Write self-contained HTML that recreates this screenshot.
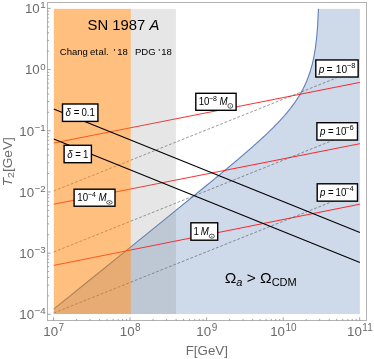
<!DOCTYPE html>
<html><head><meta charset="utf-8"><title>plot</title>
<style>html,body{margin:0;padding:0;background:#fff;}svg{display:block;will-change:transform;}text{font-family:"Liberation Sans", sans-serif;}</style></head>
<body>
<svg width="374" height="359" viewBox="0 0 374 359">
<rect x="0" y="0" width="374" height="359" fill="#fff"/>
<clipPath id="cp"><rect x="53.40" y="8.70" width="306.80" height="305.30"/></clipPath>
<g clip-path="url(#cp)">
<path d="M53.70,309.19 L91.97,278.27 L130.25,247.34 L168.52,216.38 L206.80,185.26 L210.63,182.12 L211.40,181.49 L212.18,180.85 L212.96,180.21 L213.73,179.57 L214.51,178.94 L215.28,178.30 L216.06,177.66 L216.83,177.02 L217.61,176.38 L218.39,175.74 L219.16,175.10 L219.94,174.46 L220.71,173.82 L221.49,173.18 L222.27,172.53 L223.04,171.89 L223.82,171.25 L224.59,170.60 L225.37,169.96 L226.15,169.31 L226.92,168.67 L227.70,168.02 L228.47,167.37 L229.25,166.73 L230.02,166.08 L230.80,165.43 L231.58,164.78 L232.35,164.13 L233.13,163.48 L233.90,162.83 L234.68,162.17 L235.46,161.52 L236.23,160.86 L237.01,160.21 L237.78,159.55 L238.56,158.89 L239.33,158.24 L240.11,157.58 L240.89,156.91 L241.66,156.25 L242.44,155.59 L243.21,154.92 L243.99,154.26 L244.77,153.59 L245.54,152.92 L246.32,152.25 L247.09,151.58 L247.87,150.91 L248.65,150.23 L249.42,149.56 L250.20,148.88 L250.97,148.20 L251.75,147.52 L252.52,146.84 L253.30,146.15 L254.08,145.46 L254.85,144.77 L255.63,144.08 L256.40,143.39 L257.18,142.69 L257.96,141.99 L258.73,141.29 L259.51,140.59 L260.28,139.88 L261.06,139.17 L261.84,138.46 L262.61,137.74 L263.39,137.02 L264.16,136.30 L264.94,135.58 L265.71,134.85 L266.49,134.11 L267.27,133.38 L268.04,132.64 L268.82,131.89 L269.59,131.14 L270.37,130.39 L271.15,129.63 L271.92,128.86 L272.70,128.09 L273.47,127.32 L274.25,126.54 L275.03,125.75 L275.80,124.96 L276.58,124.16 L277.35,123.36 L278.13,122.54 L278.90,121.72 L279.68,120.90 L280.46,120.06 L281.23,119.22 L282.01,118.36 L282.78,117.50 L283.56,116.63 L284.34,115.74 L285.11,114.85 L285.89,113.94 L286.66,113.03 L287.44,112.10 L288.22,111.15 L288.99,110.19 L289.77,109.22 L290.54,108.23 L291.32,107.22 L292.09,106.20 L292.87,105.15 L293.65,104.09 L294.42,103.00 L295.20,101.89 L295.97,100.76 L296.75,99.59 L297.53,98.40 L298.30,97.18 L299.08,95.93 L299.85,94.63 L300.63,93.30 L301.41,91.92 L302.18,90.50 L302.96,89.03 L303.73,87.50 L304.51,85.90 L305.28,84.24 L306.06,82.50 L306.84,80.67 L307.61,78.74 L308.39,76.70 L309.16,74.53 L309.94,72.21 L310.72,69.71 L311.49,67.00 L312.27,64.04 L313.04,60.77 L313.82,57.10 L314.60,52.92 L315.37,48.04 L316.15,42.17 L316.92,34.75 L317.70,24.63 L318.47,8.40 L318.47,8.40 L359.90,8.40 L359.90,314.30 L53.70,314.30 Z" fill="rgb(94,129,181)" fill-opacity="0.3" stroke="none"/>
<path d="M53.70,309.19 L91.97,278.27 L130.25,247.34 L168.52,216.38 L206.80,185.26 L210.63,182.12 L211.40,181.49 L212.18,180.85 L212.96,180.21 L213.73,179.57 L214.51,178.94 L215.28,178.30 L216.06,177.66 L216.83,177.02 L217.61,176.38 L218.39,175.74 L219.16,175.10 L219.94,174.46 L220.71,173.82 L221.49,173.18 L222.27,172.53 L223.04,171.89 L223.82,171.25 L224.59,170.60 L225.37,169.96 L226.15,169.31 L226.92,168.67 L227.70,168.02 L228.47,167.37 L229.25,166.73 L230.02,166.08 L230.80,165.43 L231.58,164.78 L232.35,164.13 L233.13,163.48 L233.90,162.83 L234.68,162.17 L235.46,161.52 L236.23,160.86 L237.01,160.21 L237.78,159.55 L238.56,158.89 L239.33,158.24 L240.11,157.58 L240.89,156.91 L241.66,156.25 L242.44,155.59 L243.21,154.92 L243.99,154.26 L244.77,153.59 L245.54,152.92 L246.32,152.25 L247.09,151.58 L247.87,150.91 L248.65,150.23 L249.42,149.56 L250.20,148.88 L250.97,148.20 L251.75,147.52 L252.52,146.84 L253.30,146.15 L254.08,145.46 L254.85,144.77 L255.63,144.08 L256.40,143.39 L257.18,142.69 L257.96,141.99 L258.73,141.29 L259.51,140.59 L260.28,139.88 L261.06,139.17 L261.84,138.46 L262.61,137.74 L263.39,137.02 L264.16,136.30 L264.94,135.58 L265.71,134.85 L266.49,134.11 L267.27,133.38 L268.04,132.64 L268.82,131.89 L269.59,131.14 L270.37,130.39 L271.15,129.63 L271.92,128.86 L272.70,128.09 L273.47,127.32 L274.25,126.54 L275.03,125.75 L275.80,124.96 L276.58,124.16 L277.35,123.36 L278.13,122.54 L278.90,121.72 L279.68,120.90 L280.46,120.06 L281.23,119.22 L282.01,118.36 L282.78,117.50 L283.56,116.63 L284.34,115.74 L285.11,114.85 L285.89,113.94 L286.66,113.03 L287.44,112.10 L288.22,111.15 L288.99,110.19 L289.77,109.22 L290.54,108.23 L291.32,107.22 L292.09,106.20 L292.87,105.15 L293.65,104.09 L294.42,103.00 L295.20,101.89 L295.97,100.76 L296.75,99.59 L297.53,98.40 L298.30,97.18 L299.08,95.93 L299.85,94.63 L300.63,93.30 L301.41,91.92 L302.18,90.50 L302.96,89.03 L303.73,87.50 L304.51,85.90 L305.28,84.24 L306.06,82.50 L306.84,80.67 L307.61,78.74 L308.39,76.70 L309.16,74.53 L309.94,72.21 L310.72,69.71 L311.49,67.00 L312.27,64.04 L313.04,60.77 L313.82,57.10 L314.60,52.92 L315.37,48.04 L316.15,42.17 L316.92,34.75 L317.70,24.63 L318.47,8.40 L318.47,8.40" fill="none" stroke="rgb(94,129,181)" stroke-width="1.1"/>
<line x1="53.70" y1="143.00" x2="359.90" y2="82.40" stroke="rgb(255,10,10)" stroke-width="0.85"/>
<line x1="53.70" y1="204.20" x2="359.90" y2="143.70" stroke="rgb(255,10,10)" stroke-width="0.85"/>
<line x1="53.70" y1="265.40" x2="359.90" y2="204.20" stroke="rgb(255,10,10)" stroke-width="0.85"/>
<line x1="53.70" y1="313.00" x2="336.50" y2="199.88" stroke="rgb(70,70,70)" stroke-width="0.55" stroke-dasharray="2.8,1.8"/>
<line x1="53.70" y1="252.00" x2="336.50" y2="138.88" stroke="rgb(70,70,70)" stroke-width="0.55" stroke-dasharray="2.8,1.8"/>
<line x1="53.70" y1="191.00" x2="336.50" y2="77.88" stroke="rgb(70,70,70)" stroke-width="0.55" stroke-dasharray="2.8,1.8"/>
<rect x="53.70" y="8.40" width="77.10" height="305.90" fill="rgb(255,127,0)" fill-opacity="0.5"/>
<rect x="130.80" y="8.40" width="45.10" height="305.90" fill="rgb(128,128,128)" fill-opacity="0.2"/>
<line x1="53.70" y1="109.00" x2="359.90" y2="232.55" stroke="#000" stroke-width="1.1"/>
<line x1="53.70" y1="138.90" x2="359.90" y2="262.45" stroke="#000" stroke-width="1.1"/>
</g>
<rect x="47.5" y="2.5" width="319.0" height="318.0" fill="none" stroke="rgb(178,178,178)" stroke-width="1"/>
<path d="M47.50,314.30 h3.2 M47.50,295.88 h1.6 M47.50,285.11 h1.6 M47.50,277.47 h1.6 M47.50,271.54 h1.6 M47.50,266.69 h1.6 M47.50,262.60 h1.6 M47.50,259.05 h1.6 M47.50,255.92 h1.6 M47.50,253.12 h3.2 M47.50,234.70 h1.6 M47.50,223.93 h1.6 M47.50,216.29 h1.6 M47.50,210.36 h1.6 M47.50,205.51 h1.6 M47.50,201.42 h1.6 M47.50,197.87 h1.6 M47.50,194.74 h1.6 M47.50,191.94 h3.2 M47.50,173.52 h1.6 M47.50,162.75 h1.6 M47.50,155.11 h1.6 M47.50,149.18 h1.6 M47.50,144.33 h1.6 M47.50,140.24 h1.6 M47.50,136.69 h1.6 M47.50,133.56 h1.6 M47.50,130.76 h3.2 M47.50,112.34 h1.6 M47.50,101.57 h1.6 M47.50,93.93 h1.6 M47.50,88.00 h1.6 M47.50,83.15 h1.6 M47.50,79.06 h1.6 M47.50,75.51 h1.6 M47.50,72.38 h1.6 M47.50,69.58 h3.2 M47.50,51.16 h1.6 M47.50,40.39 h1.6 M47.50,32.75 h1.6 M47.50,26.82 h1.6 M47.50,21.97 h1.6 M47.50,17.88 h1.6 M47.50,14.33 h1.6 M47.50,11.20 h1.6 M47.50,8.40 h3.2 M53.50,320.50 v-3.2 M76.54,320.50 v-1.6 M90.02,320.50 v-1.6 M99.59,320.50 v-1.6 M107.01,320.50 v-1.6 M113.07,320.50 v-1.6 M118.19,320.50 v-1.6 M122.63,320.50 v-1.6 M126.55,320.50 v-1.6 M130.05,320.50 v-3.2 M153.09,320.50 v-1.6 M166.57,320.50 v-1.6 M176.14,320.50 v-1.6 M183.56,320.50 v-1.6 M189.62,320.50 v-1.6 M194.74,320.50 v-1.6 M199.18,320.50 v-1.6 M203.10,320.50 v-1.6 M206.60,320.50 v-3.2 M229.64,320.50 v-1.6 M243.12,320.50 v-1.6 M252.69,320.50 v-1.6 M260.11,320.50 v-1.6 M266.17,320.50 v-1.6 M271.29,320.50 v-1.6 M275.73,320.50 v-1.6 M279.65,320.50 v-1.6 M283.15,320.50 v-3.2 M306.19,320.50 v-1.6 M319.67,320.50 v-1.6 M329.24,320.50 v-1.6 M336.66,320.50 v-1.6 M342.72,320.50 v-1.6 M347.84,320.50 v-1.6 M352.28,320.50 v-1.6 M356.20,320.50 v-1.6 M359.70,320.50 v-3.2" fill="none" stroke="rgb(140,140,140)" stroke-width="0.8"/>
<text x="45.7" y="319.10" text-anchor="end" font-size="13.3" fill="rgb(106,106,106)">10<tspan font-size="9.7" dx="0.6" dy="-4.8">−4</tspan></text>
<text x="45.7" y="257.92" text-anchor="end" font-size="13.3" fill="rgb(106,106,106)">10<tspan font-size="9.7" dx="0.6" dy="-4.8">−3</tspan></text>
<text x="45.7" y="196.74" text-anchor="end" font-size="13.3" fill="rgb(106,106,106)">10<tspan font-size="9.7" dx="0.6" dy="-4.8">−2</tspan></text>
<text x="45.7" y="135.56" text-anchor="end" font-size="13.3" fill="rgb(106,106,106)">10<tspan font-size="9.7" dx="0.6" dy="-4.8">−1</tspan></text>
<text x="45.7" y="74.38" text-anchor="end" font-size="13.3" fill="rgb(106,106,106)">10<tspan font-size="9.7" dx="0.6" dy="-4.8">0</tspan></text>
<text x="45.7" y="13.20" text-anchor="end" font-size="13.3" fill="rgb(106,106,106)">10<tspan font-size="9.7" dx="0.6" dy="-4.8">1</tspan></text>
<text x="53.70" y="335.7" text-anchor="middle" font-size="13.3" fill="rgb(106,106,106)">10<tspan font-size="10" dx="0.5" dy="-4.8">7</tspan></text>
<text x="130.25" y="335.7" text-anchor="middle" font-size="13.3" fill="rgb(106,106,106)">10<tspan font-size="10" dx="0.5" dy="-4.8">8</tspan></text>
<text x="206.80" y="335.7" text-anchor="middle" font-size="13.3" fill="rgb(106,106,106)">10<tspan font-size="10" dx="0.5" dy="-4.8">9</tspan></text>
<text x="283.35" y="335.7" text-anchor="middle" font-size="13.3" fill="rgb(106,106,106)">10<tspan font-size="10" dx="0.5" dy="-4.8">10</tspan></text>
<text x="359.90" y="335.7" text-anchor="middle" font-size="13.3" fill="rgb(106,106,106)">10<tspan font-size="10" dx="0.5" dy="-4.8">11</tspan></text>
<text x="206.8" y="354.6" text-anchor="middle" font-size="13.3" fill="rgb(106,106,106)">F[GeV]</text>
<g transform="translate(11.8,161.8) rotate(-90) scale(1.1,1)"><text x="0" y="0" text-anchor="middle" font-size="12.4" fill="rgb(106,106,106)"><tspan font-style="italic">T</tspan><tspan font-size="9.8" dy="2.4">2</tspan><tspan dy="-2.4">[GeV]</tspan></text></g>
<g transform="translate(87.6,30) scale(0.958,1)"><text x="0" y="0" font-size="15.5" fill="#000">SN 1987 <tspan font-style="italic">A</tspan></text></g>
<text x="59.80" y="55.2" font-size="9.55" fill="#000">Chang</text>
<text x="89.90" y="55.2" font-size="9.55" fill="#000">et</text>
<text x="98.60" y="55.2" font-size="9.55" fill="#000">al.</text>
<text x="113.50" y="55.2" font-size="9.55" fill="#000">'</text>
<text x="117.20" y="55.2" font-size="9.55" fill="#000">18</text>
<text x="134.90" y="55.2" font-size="9.55" fill="#000">PDG</text>
<text x="158.30" y="55.2" font-size="9.55" fill="#000">'</text>
<text x="161.30" y="55.2" font-size="9.55" fill="#000">18</text>
<text x="224.7" y="283.1" font-size="15.5" fill="#000">Ω<tspan font-size="11" dy="2.6" font-style="italic">a</tspan><tspan dy="-2.6"> &gt; Ω</tspan><tspan font-size="11" dy="2.6">CDM</tspan></text>
<rect x="62.50" y="104.00" width="35.40" height="17.40" fill="#fff" stroke="#000" stroke-width="1.40"/>
<text transform="translate(65.46,116.40) scale(0.943,1)" font-size="10.28" font-style="italic" fill="#000">δ</text>
<text transform="translate(73.74,116.40) scale(0.943,1)" font-size="10.28" fill="#000">=</text>
<text transform="translate(81.41,116.40) scale(0.943,1)" font-size="10.28" fill="#000">0.1</text>
<rect x="64.10" y="145.30" width="27.30" height="17.40" fill="#fff" stroke="#000" stroke-width="1.40"/>
<text transform="translate(67.26,158.00) scale(0.943,1)" font-size="10.28" font-style="italic" fill="#000">δ</text>
<text transform="translate(75.14,158.00) scale(0.943,1)" font-size="10.28" fill="#000">=</text>
<text transform="translate(83.04,158.00) scale(0.943,1)" font-size="10.28" fill="#000">1</text>
<rect x="195.80" y="93.30" width="40.30" height="17.00" fill="#fff" stroke="#000" stroke-width="1.40"/>
<text transform="translate(198.70,105.20) scale(0.943,1)" font-size="10.28" fill="#000">10</text>
<text transform="translate(208.90,101.20) scale(0.943,1)" font-size="7.40" fill="#000">−8</text>
<text transform="translate(219.60,105.20) scale(0.943,1)" font-size="10.28" font-style="italic" fill="#000">M</text>
<ellipse cx="230.30" cy="105.90" rx="2.45" ry="2.35" fill="none" stroke="#000" stroke-width="0.65"/><circle cx="230.30" cy="105.90" r="0.5" fill="#000"/>
<rect x="74.10" y="189.20" width="40.90" height="17.00" fill="#fff" stroke="#000" stroke-width="1.40"/>
<text transform="translate(77.30,200.70) scale(0.943,1)" font-size="10.28" fill="#000">10</text>
<text transform="translate(88.00,196.70) scale(0.943,1)" font-size="7.40" fill="#000">−4</text>
<text transform="translate(98.40,200.70) scale(0.943,1)" font-size="10.28" font-style="italic" fill="#000">M</text>
<ellipse cx="109.40" cy="202.45" rx="2.80" ry="1.75" fill="none" stroke="#000" stroke-width="0.65"/><circle cx="109.40" cy="202.45" r="0.5" fill="#000"/>
<rect x="190.90" y="222.80" width="26.80" height="17.40" fill="#fff" stroke="#000" stroke-width="1.40"/>
<text transform="translate(193.54,234.90) scale(0.943,1)" font-size="10.28" fill="#000">1</text>
<text transform="translate(200.65,234.90) scale(0.943,1)" font-size="10.28" font-style="italic" fill="#000">M</text>
<ellipse cx="211.85" cy="236.15" rx="2.60" ry="2.00" fill="none" stroke="#000" stroke-width="0.65"/><circle cx="211.85" cy="236.15" r="0.5" fill="#000"/>
<rect x="315.80" y="59.95" width="42.35" height="17.05" fill="#fff" stroke="#000" stroke-width="1.40"/>
<text transform="translate(318.80,72.90) scale(0.971,1)" font-size="10.51" font-style="italic" fill="#000">p</text>
<text transform="translate(326.50,72.90) scale(0.971,1)" font-size="10.51" fill="#000">=</text>
<text transform="translate(335.80,72.90) scale(0.971,1)" font-size="10.51" fill="#000">10</text>
<text transform="translate(346.90,68.40) scale(0.971,1)" font-size="7.77" fill="#000">−8</text>
<rect x="316.90" y="122.70" width="40.60" height="17.35" fill="#fff" stroke="#000" stroke-width="1.40"/>
<text transform="translate(319.90,134.50) scale(0.943,1)" font-size="10.28" font-style="italic" fill="#000">p</text>
<text transform="translate(327.90,134.50) scale(0.943,1)" font-size="10.28" fill="#000">=</text>
<text transform="translate(335.50,134.50) scale(0.943,1)" font-size="10.28" fill="#000">10</text>
<text transform="translate(345.20,129.80) scale(0.943,1)" font-size="8.02" fill="#000">−6</text>
<rect x="317.20" y="183.80" width="40.30" height="17.35" fill="#fff" stroke="#000" stroke-width="1.40"/>
<text transform="translate(319.90,196.10) scale(0.943,1)" font-size="10.28" font-style="italic" fill="#000">p</text>
<text transform="translate(327.90,196.10) scale(0.943,1)" font-size="10.28" fill="#000">=</text>
<text transform="translate(335.50,196.10) scale(0.943,1)" font-size="10.28" fill="#000">10</text>
<text transform="translate(345.20,191.40) scale(0.943,1)" font-size="8.02" fill="#000">−4</text>
</svg>
</body></html>
